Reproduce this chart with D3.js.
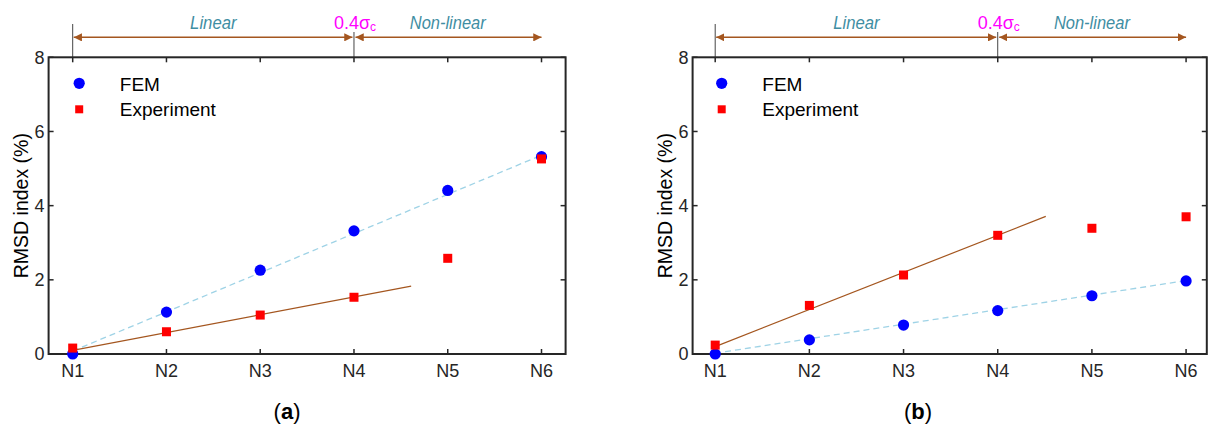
<!DOCTYPE html>
<html>
<head>
<meta charset="utf-8">
<script src="https://cdn.jsdelivr.net/npm/d3@7"></script>
<style>
  html, body { margin: 0; padding: 0; background: #ffffff; }
  svg { display: block; }
  text { font-family: "Liberation Sans", Arial, sans-serif; }
</style>
</head>
<body>
<svg id="chart" width="1208" height="429"></svg>
<script>
// Loading stages along the x axis
const categories = ["N1", "N2", "N3", "N4", "N5", "N6"];
const yTicks = [0, 2, 4, 6, 8];

// RMSD index (%) — panel (a)
const femA = [0.0, 1.13, 2.26, 3.32, 4.41, 5.32];
const expA = [0.16, 0.60, 1.05, 1.53, 2.58, 5.26];
// Linear trends (stage position, RMSD value)
const femTrendA = [[1, 0.08], [6, 5.36]];
const expTrendA = [[1, 0.10], [4.61, 1.83]];

// RMSD index (%) — panel (b)
const femB = [0.0, 0.38, 0.78, 1.17, 1.57, 1.97];
const expB = [0.24, 1.31, 2.13, 3.20, 3.39, 3.70];
const femTrendB = [[1, 0.02], [6, 1.98]];
const expTrendB = [[1, 0.20], [4.51, 3.71]];

// Regime annotation
const regimeLabels = ["Linear", "Non-linear"];
const regimeBoundaryStage = 4;   // N4 = 0.4 sigma_c
const legendLabels = ["FEM", "Experiment"];

const svg = d3.select("#chart");
const arrowColor = "#a4561f";
const frameColor = "#262626";

const defs = svg.append("defs");
defs.append("marker")
  .attr("id", "arrowHead")
  .attr("viewBox", "0 0 10 10")
  .attr("refX", 10).attr("refY", 5)
  .attr("markerWidth", 5.5).attr("markerHeight", 5.5)
  .attr("markerUnits", "strokeWidth")
  .attr("orient", "auto-start-reverse")
  .append("path")
  .attr("d", "M0,0 L10,5 L0,10 Z")
  .attr("fill", arrowColor);

function drawPanel(p) {
  const x = d3.scaleLinear().domain(p.xDomain).range([p.left, p.right]);
  const y = d3.scaleLinear().domain([0, 8]).range([p.bottom, p.top]);
  const g = svg.append("g");
  const stages = categories.map((c, i) => i + 1);

  // Regime annotation above the axes
  const ann = g.append("g");
  const xStart = x(1), xMid = x(regimeBoundaryStage), xEnd = x(6);
  ann.append("line")
    .attr("x1", xStart).attr("x2", xStart)
    .attr("y1", 24).attr("y2", p.top)
    .attr("stroke", "#444").attr("stroke-width", 1);
  ann.append("line")
    .attr("x1", xMid).attr("x2", xMid)
    .attr("y1", 32).attr("y2", p.top)
    .attr("stroke", "#444").attr("stroke-width", 1);
  const ay = 37.3;
  ann.append("line")
    .attr("x1", xStart + 1).attr("x2", xMid - 1.5)
    .attr("y1", ay).attr("y2", ay)
    .attr("stroke", arrowColor).attr("stroke-width", 1.5)
    .attr("marker-start", "url(#arrowHead)")
    .attr("marker-end", "url(#arrowHead)");
  ann.append("line")
    .attr("x1", xMid + 1.5).attr("x2", xEnd)
    .attr("y1", ay).attr("y2", ay)
    .attr("stroke", arrowColor).attr("stroke-width", 1.5)
    .attr("marker-start", "url(#arrowHead)")
    .attr("marker-end", "url(#arrowHead)");

  ann.append("text")
    .attr("x", (xStart + xMid) / 2).attr("y", 29)
    .attr("text-anchor", "middle")
    .attr("font-size", 18).attr("font-style", "italic")
    .attr("textLength", 46.5).attr("lengthAdjust", "spacingAndGlyphs")
    .attr("fill", "#3f8ea3")
    .text(regimeLabels[0]);
  ann.append("text")
    .attr("x", (xMid + xEnd) / 2).attr("y", 29)
    .attr("text-anchor", "middle")
    .attr("font-size", 18).attr("font-style", "italic")
    .attr("textLength", 76).attr("lengthAdjust", "spacingAndGlyphs")
    .attr("fill", "#3f8ea3")
    .text(regimeLabels[1]);
  const sig = ann.append("text")
    .attr("x", xMid - 20).attr("y", 29)
    .attr("font-size", 18).attr("fill", "#ff00ff");
  sig.append("tspan").text("0.4σ");
  sig.append("tspan").attr("font-size", 12).attr("dy", 2).text("c");

  // Trend lines
  const line = d3.line().x(d => x(d[0])).y(d => y(d[1]));
  g.append("path").datum(p.femTrend)
    .attr("d", line).attr("fill", "none")
    .attr("stroke", "#9fd3e6").attr("stroke-width", 1.3)
    .attr("stroke-dasharray", "6,4");
  g.append("path").datum(p.expTrend)
    .attr("d", line).attr("fill", "none")
    .attr("stroke", "#a4561f").attr("stroke-width", 1.2);

  // Axes frame with inward ticks
  const frame = g.append("g");
  const tl = 5;
  frame.selectAll("line.xb").data(stages).join("line")
    .attr("x1", d => x(d)).attr("x2", d => x(d))
    .attr("y1", p.bottom).attr("y2", p.bottom - tl)
    .attr("stroke", frameColor).attr("stroke-width", 1.5);
  frame.selectAll("line.xt").data(stages).join("line")
    .attr("x1", d => x(d)).attr("x2", d => x(d))
    .attr("y1", p.top).attr("y2", p.top + tl)
    .attr("stroke", frameColor).attr("stroke-width", 1.5);
  frame.selectAll("line.yl").data(yTicks).join("line")
    .attr("x1", p.left).attr("x2", p.left + tl)
    .attr("y1", d => y(d)).attr("y2", d => y(d))
    .attr("stroke", frameColor).attr("stroke-width", 1.5);
  frame.selectAll("line.yr").data(yTicks).join("line")
    .attr("x1", p.right).attr("x2", p.right - tl)
    .attr("y1", d => y(d)).attr("y2", d => y(d))
    .attr("stroke", frameColor).attr("stroke-width", 1.5);

  // Data points
  g.selectAll("circle.fem").data(p.fem).join("circle")
    .attr("cx", (d, i) => x(stages[i])).attr("cy", d => y(d))
    .attr("r", 5.6).attr("fill", "#0000ff");
  const s = 9;
  g.selectAll("rect.exp").data(p.exp).join("rect")
    .attr("x", (d, i) => x(stages[i]) - s / 2).attr("y", d => y(d) - s / 2)
    .attr("width", s).attr("height", s).attr("fill", "#ff0000");

  frame.append("rect")
    .attr("x", p.left).attr("y", p.top)
    .attr("width", p.right - p.left).attr("height", p.bottom - p.top)
    .attr("fill", "none").attr("stroke", frameColor).attr("stroke-width", 2);

  // Tick labels
  g.selectAll("text.xl").data(categories).join("text")
    .attr("x", (d, i) => x(stages[i])).attr("y", 377)
    .attr("text-anchor", "middle").attr("font-size", 18)
    .attr("fill", frameColor).text(d => d);
  g.selectAll("text.yl").data(yTicks).join("text")
    .attr("x", p.left - 4).attr("y", d => y(d)).attr("dy", "0.35em")
    .attr("text-anchor", "end").attr("font-size", 18)
    .attr("fill", frameColor).text(d => d);

  // Axis title
  g.append("text")
    .attr("transform", `translate(${p.left - 21},${(p.top + p.bottom) / 2}) rotate(-90)`)
    .attr("text-anchor", "middle").attr("font-size", 19.5)
    .attr("fill", "#000").text("RMSD index (%)");

  // Legend
  const lx = x(1) + 6.5;
  g.append("circle").attr("cx", lx).attr("cy", 83.3).attr("r", 5.6).attr("fill", "#0000ff");
  g.append("rect").attr("x", lx - 4).attr("y", 105.3).attr("width", 8).attr("height", 8).attr("fill", "#ff0000");
  g.append("text").attr("x", lx + 40.6).attr("y", 90.7).attr("font-size", 19).attr("fill", "#000").text(legendLabels[0]);
  g.append("text").attr("x", lx + 40.6).attr("y", 116).attr("font-size", 19).attr("fill", "#000").text(legendLabels[1]);

  // Panel caption
  const cap = g.append("text")
    .attr("x", p.captionX).attr("y", 419)
    .attr("text-anchor", "middle")
    .attr("font-family", "'Liberation Serif', 'DejaVu Serif', serif")
    .attr("font-size", 22).attr("fill", "#000");
  cap.append("tspan").text("(");
  cap.append("tspan").attr("font-weight", "bold").text(p.caption);
  cap.append("tspan").text(")");
}

drawPanel({
  left: 48.6, right: 565.6, top: 57.3, bottom: 354,
  xDomain: [0.743, 6.257],
  fem: femA, exp: expA, femTrend: femTrendA, expTrend: expTrendA,
  caption: "a", captionX: 287
});
drawPanel({
  left: 692.6, right: 1206.8, top: 57.3, bottom: 354,
  xDomain: [0.76, 6.22],
  fem: femB, exp: expB, femTrend: femTrendB, expTrend: expTrendB,
  caption: "b", captionX: 918
});
</script>
</body>
</html>
